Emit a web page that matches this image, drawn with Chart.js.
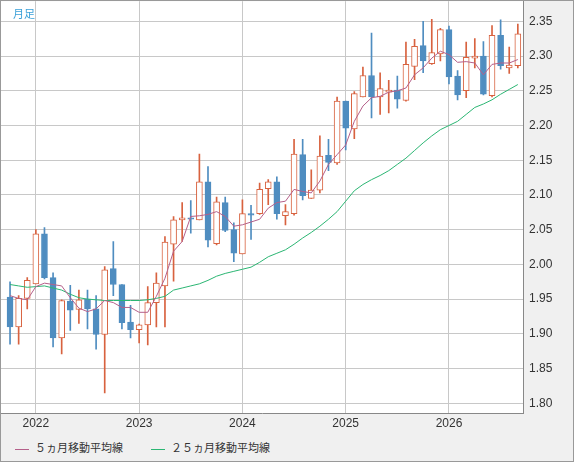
<!DOCTYPE html>
<html><head><meta charset="utf-8">
<script src="https://cdn.jsdelivr.net/npm/chart.js@4"></script>
<style>
body{margin:0;background:#fff;font-family:"Noto Sans CJK JP","DejaVu Sans",sans-serif;}
#wrap{position:relative;width:572px;height:460px;border:1px solid #999;background:#f0f0f0;overflow:hidden;}
#box{position:absolute;left:0;top:-13px;width:572px;height:449px;}
#title{position:absolute;left:12px;top:4px;color:#3aa0d8;font-size:11px;}
#legend{position:absolute;left:14px;top:438px;font-size:11px;color:#333;}
#legend span{display:inline-block;margin-right:28px;}
#legend i{display:inline-block;width:14px;height:0;border-top:1px solid;vertical-align:middle;margin-right:6px;}
</style></head><body>
<div id="wrap"><div id="box"><canvas id="c"></canvas></div>
<div id="title">月足</div>
<div id="legend"><span><i style="border-color:#b5608a"></i>５ヵ月移動平均線</span><span><i style="border-color:#2bb673"></i>２５ヵ月移動平均線</span></div>
</div>
<script>
// 2021/10 〜 2026/9 月足
const opens  = [1.953,1.910,1.951,1.972,2.044,1.981,1.894,1.947,1.935,1.950,1.936,1.899,1.994,1.971,1.917,1.906,1.913,1.945,1.969,2.029,
  2.064,2.067,2.064,2.119,2.030,2.089,2.050,2.015,2.073,2.073,2.109,2.119,2.070,2.073,2.158,2.095,2.107,2.157,2.146,2.235,
  2.195,2.241,2.272,2.241,2.248,2.251,2.236,2.285,2.315,2.289,2.303,2.338,2.271,2.250,2.297,2.300,2.243,2.330,2.283,2.286];
const highs  = [1.975,1.955,1.981,2.050,2.053,1.988,1.949,1.970,1.963,1.963,1.955,1.997,2.033,1.971,1.941,1.914,1.968,1.988,2.040,2.069,
  2.089,2.092,2.159,2.141,2.097,2.097,2.060,2.093,2.085,2.117,2.122,2.126,2.086,2.180,2.180,2.136,2.185,2.180,2.241,2.235,
  2.249,2.284,2.333,2.276,2.265,2.271,2.320,2.324,2.350,2.353,2.340,2.343,2.279,2.320,2.325,2.321,2.344,2.352,2.313,2.346];
const lows   = [1.885,1.885,1.936,1.972,1.979,1.881,1.871,1.905,1.915,1.907,1.878,1.815,1.955,1.907,1.894,1.887,1.884,1.910,1.910,1.976,
  2.033,2.045,2.064,2.025,2.028,2.047,2.004,2.015,2.036,2.072,2.086,2.065,2.057,2.071,2.093,2.095,2.103,2.135,2.144,2.165,
  2.181,2.241,2.211,2.216,2.218,2.225,2.235,2.266,2.276,2.288,2.293,2.260,2.237,2.240,2.283,2.244,2.241,2.281,2.275,2.283];
const closes = [1.910,1.951,1.977,2.044,1.981,1.894,1.948,1.934,1.949,1.936,1.899,1.992,1.971,1.916,1.906,1.913,1.945,1.973,2.032,2.064,
  2.067,2.065,2.119,2.035,2.090,2.049,2.016,2.073,2.072,2.108,2.119,2.073,2.076,2.159,2.099,2.107,2.156,2.147,2.235,2.196,
  2.246,2.272,2.241,2.253,2.251,2.238,2.288,2.314,2.293,2.305,2.338,2.270,2.244,2.298,2.300,2.245,2.330,2.286,2.287,2.332];
const ma5  = [1.955,1.951,1.949,1.968,1.973,1.971,1.969,1.952,1.937,1.932,1.936,1.948,1.945,1.938,1.938,1.931,1.931,1.954,1.980,2.019,
  2.033,2.069,2.070,2.072,2.076,2.069,2.055,2.057,2.061,2.065,2.081,2.089,2.091,2.108,2.105,2.103,2.120,2.144,2.158,2.172,
  2.206,2.228,2.240,2.242,2.248,2.250,2.254,2.273,2.283,2.297,2.307,2.302,2.291,2.292,2.290,2.273,2.288,2.290,2.290,2.295];
const ma25 = [1.971,1.969,1.967,1.968,1.969,1.966,1.963,1.957,1.952,1.950,1.949,1.948,1.948,1.948,1.948,1.948,1.949,1.951,1.954,1.963,
  1.966,1.969,1.972,1.977,1.983,1.987,1.990,1.993,1.996,2.003,2.011,2.016,2.021,2.029,2.038,2.046,2.055,2.065,2.076,2.091,
  2.106,2.115,2.122,2.128,2.135,2.144,2.153,2.164,2.175,2.185,2.194,2.200,2.206,2.216,2.226,2.231,2.237,2.245,2.252,2.259];
const yearIdx = [3,15,27,39,51];
const yearLabels = ["2022","2023","2024","2025","2026"];
const yTicks = [1.80,1.85,1.90,1.95,2.00,2.05,2.10,2.15,2.20,2.25,2.30,2.35];

const RED = "#d8623f", BLUE = "#4f8dc0";
const up = closes.map((c,i)=>c>=opens[i]);
const bodies = closes.map((c,i)=>({x:i, y:[opens[i], Math.abs(c-opens[i])<0.002 ? opens[i]+(c>=opens[i]?0.002:-0.002) : c]}));
const wicks = closes.map((c,i)=>({x:i, y:[lows[i], highs[i]]}));

new Chart(document.getElementById("c"), {
  data: {datasets: [
    {type:"line", data: ma25.map((v,i)=>({x:i,y:v})), borderColor:"#2bb673", borderWidth:1, pointRadius:0, order:1},
    {type:"line", data: ma5.map((v,i)=>({x:i,y:v})), borderColor:"#b5608a", borderWidth:1, pointRadius:0, order:0},
    {type:"bar", data: bodies, backgroundColor: up.map(u=>u?"#fff":BLUE), borderColor: up.map(u=>u?RED:BLUE),
      borderWidth:1, borderSkipped:false, barThickness:6, grouped:false, order:2},
    {type:"bar", data: wicks, backgroundColor: up.map(u=>u?RED:BLUE), barThickness:1, grouped:false, order:3}
  ]},
  options: {
    responsive:true, maintainAspectRatio:false, animation:false,
    layout:{padding:0},
    plugins:{legend:{display:false}, tooltip:{enabled:false}},
    scales:{
      x:{type:"linear", min:-1.05, max:59.6, offset:false,
        afterBuildTicks:a=>{a.ticks=yearIdx.map(v=>({value:v}));},
        ticks:{color:"#333", font:{size:12}, maxRotation:0, callback:v=>yearLabels[yearIdx.indexOf(v)]},
        grid:{color:"#c8c8c8", drawTicks:false, offset:false}, border:{color:"#888"},
        afterFit:a=>{a.height=24;}},
      y:{position:"right", min:1.786, max:2.379,
        afterBuildTicks:a=>{a.ticks=yTicks.map(v=>({value:v}));},
        ticks:{color:"#333", font:{size:12}, padding:6, callback:v=>v.toFixed(2)},
        grid:{color:"#c8c8c8", drawTicks:false}, border:{color:"#888"},
        afterFit:a=>{a.width=50;}}
    }
  },
  plugins:[{id:"bg", beforeDraw:ch=>{const a=ch.chartArea,c=ch.ctx;c.save();c.fillStyle="#fff";c.fillRect(a.left,a.top,a.width,a.height);c.restore();}}]
});
</script></body></html>
